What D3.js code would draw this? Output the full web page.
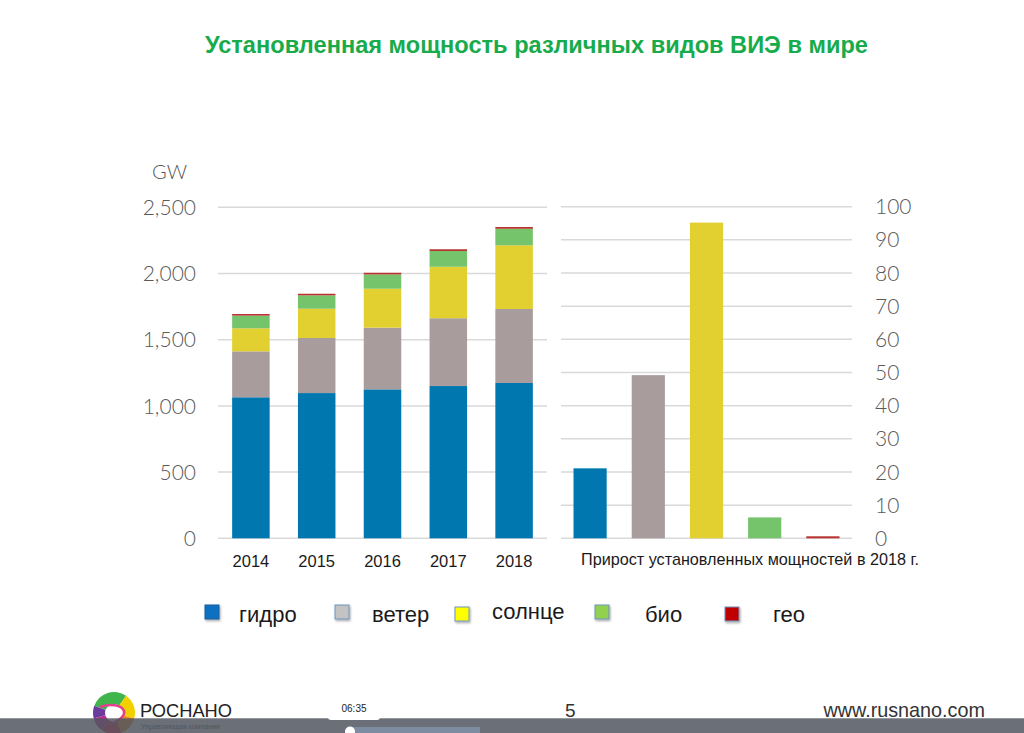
<!DOCTYPE html>
<html><head><meta charset="utf-8">
<script src="https://cdn.jsdelivr.net/npm/d3@7"></script>
<style>body{margin:0;background:#fff}svg{display:block}</style>
</head><body>
<script>
// ---- data ----
const years = ["2014","2015","2016","2017","2018"];
const hydro = [1065,1097,1125,1150,1173];
const wind  = [347,416,466,512,559];
const solar = [174,221,294,389,481];
const bio   = [96,101,108,119,125];
const geo   = [12,12,12.5,13,13.3];
const seriesNames = ["гидро","ветер","солнце","био","гео"];
const growth2018 = [21.1,49.2,95.2,6.3,0.6];
const leftTicks = [0,500,1000,1500,2000,2500];
const rightTicks = [0,10,20,30,40,50,60,70,80,90,100];
const titleText = "Установленная мощность различных видов ВИЭ в мире";
const unitText = "GW";
const growthText = "Прирост установленных мощностей в 2018 г.";
const pageNum = "5";
const siteText = "www.rusnano.com";
const timeText = "06:35";

// ---- styles ----
const barColors = ["#0077af","#a89c9c","#e2d030","#75c36b","#b8312f"];
const legendColors = ["#0a6fc0","#c3c3c3","#ffff00","#92d050","#c00000"];
const axisFont = "Lato, 'Open Sans', sans-serif";
const sansFont = "'Liberation Sans', Arial, sans-serif";

const W = 1024, H = 733;
const svg = d3.select("body").append("svg").attr("width", W).attr("height", H);
const defs = svg.append("defs");
const f = defs.append("filter").attr("id","sh").attr("x","-30%").attr("y","-30%").attr("width","170%").attr("height","170%");
f.append("feDropShadow").attr("dx",1).attr("dy",1.5).attr("stdDeviation",1).attr("flood-color","#000").attr("flood-opacity",0.35);

// title
svg.append("text").attr("x", 536.5).attr("y", 53).attr("text-anchor","middle")
  .attr("font-family", sansFont).attr("font-weight","bold").attr("font-size", 23.6)
  .attr("fill","#17ab4b").text(titleText);

// ---- left chart ----
const yL = d3.scaleLinear().domain([0,2500]).range([538.3, 207.3]);
const xL = d3.scaleBand().domain(years).range([218, 547]).paddingInner(0.43).paddingOuter(0.215);

const gL = svg.append("g");
gL.selectAll("line.grid").data(leftTicks).join("line")
  .attr("x1", 218).attr("x2", 547).attr("y1", d => yL(d)).attr("y2", d => yL(d))
  .attr("stroke","#d9d9d9").attr("stroke-width",1.5);
gL.selectAll("text.tick").data(leftTicks).join("text")
  .attr("x", 196).attr("y", d => yL(d) + 7.6).attr("text-anchor","end")
  .attr("font-family", axisFont).attr("font-weight",300).attr("font-size", 21).attr("fill","#595959")
  .text(d => d3.format(",")(d));
svg.append("text").attr("x", 152).attr("y", 179.3).attr("font-family", axisFont).attr("font-weight",300)
  .attr("font-size", 20).attr("fill","#595959").text(unitText);

const rows = years.map((y,i) => ({year:y, "гидро":hydro[i], "ветер":wind[i], "солнце":solar[i], "био":bio[i], "гео":geo[i]}));
const stacked = d3.stack().keys(seriesNames)(rows);
gL.selectAll("g.s").data(stacked).join("g").attr("fill", (d,i) => barColors[i])
  .selectAll("rect").data(d => d).join("rect")
  .attr("x", d => xL(d.data.year)).attr("width", xL.bandwidth())
  .attr("y", d => yL(d[1])).attr("height", d => yL(d[0]) - yL(d[1]));

gL.selectAll("text.year").data(years).join("text")
  .attr("x", d => xL(d) + xL.bandwidth()/2).attr("y", 566.5).attr("text-anchor","middle")
  .attr("font-family", sansFont).attr("font-size", 16.5).attr("fill","#1a1a1a").text(d => d);

// ---- right chart ----
const yR = d3.scaleLinear().domain([0,100]).range([538.3, 206.7]);
const xR = d3.scaleBand().domain(seriesNames).range([561, 852]).paddingInner(0.43).paddingOuter(0.215);
const gR = svg.append("g");
gR.selectAll("line.grid").data(rightTicks).join("line")
  .attr("x1", 561).attr("x2", 852).attr("y1", d => yR(d)).attr("y2", d => yR(d))
  .attr("stroke","#d9d9d9").attr("stroke-width",1.5);
gR.selectAll("text.tick").data(rightTicks).join("text")
  .attr("x", 875).attr("y", d => yR(d) + 7.6)
  .attr("font-family", axisFont).attr("font-weight",300).attr("font-size", 21).attr("fill","#595959")
  .text(d => d);
gR.selectAll("rect").data(growth2018).join("rect")
  .attr("x", (d,i) => xR(seriesNames[i])).attr("width", xR.bandwidth())
  .attr("y", d => yR(d)).attr("height", d => yR(0) - yR(d))
  .attr("fill", (d,i) => barColors[i]);
svg.append("text").attr("x", 581).attr("y", 564.5).attr("font-family", sansFont)
  .attr("font-size", 16.2).attr("fill","#1a1a1a").text(growthText);

// ---- legend ----
const legendLayout = {
  sqX: [205,335,455,595,725], sqY: [605,605,607,605,607],
  txX: [239,372,492,645,773], txY: [621.5,621.5,618.5,622,622]
};
const lg = svg.append("g");
seriesNames.forEach((name,i) => {
  lg.append("rect").attr("x", legendLayout.sqX[i]).attr("y", legendLayout.sqY[i]).attr("width",14).attr("height",14)
    .attr("fill", legendColors[i]).attr("stroke", i===0 ? "#1a5f9e" : "#6f93c0").attr("stroke-width",1)
    .attr("filter","url(#sh)");
  lg.append("text").attr("x", legendLayout.txX[i]).attr("y", legendLayout.txY[i])
    .attr("font-family", sansFont).attr("font-size", 22).attr("fill","#1a1a1a").text(name);
});

// ---- footer ----
const logo = svg.append("g").attr("transform","translate(114,713)");
const arc = d3.arc().innerRadius(8).outerRadius(21);
const segs = [[-70,35,"#3fb54b"],[35,105,"#f2d000"],[105,160,"#f08a1c"],[160,215,"#e5243b"],[215,255,"#c1288f"],[255,290,"#6b3b9b"]];
segs.forEach(s => logo.append("path").attr("d", arc({startAngle:s[0]*Math.PI/180, endAngle:s[1]*Math.PI/180})).attr("fill", s[2]));
logo.append("circle").attr("r",9).attr("fill","#fff");
logo.append("path").attr("d","M-14,-6 C-4,-10 8,-8 10,-2 C12,4 2,8 -4,12").attr("fill","none").attr("stroke","#e0408f").attr("stroke-width",2.5);
svg.append("text").attr("x",140).attr("y",716.8).attr("font-family",sansFont).attr("font-size",18.3).attr("fill","#222").text("РОСНАНО");
svg.append("text").attr("x",141).attr("y",728.5).attr("font-family",sansFont).attr("font-size",7).attr("fill","#555").text("Управляющая компания");
svg.append("text").attr("x",565).attr("y",717.3).attr("font-family",sansFont).attr("font-size",19).attr("fill","#333").text(pageNum);
svg.append("text").attr("x",985).attr("y",717.3).attr("text-anchor","end").attr("font-family",sansFont).attr("font-size",19.8).attr("fill","#333").text(siteText);

// video bar overlay
svg.append("rect").attr("x",0).attr("y",718.3).attr("width",W).attr("height",H-718.3).attr("fill","rgba(80,86,96,0.85)");
svg.append("rect").attr("x",350).attr("y",727).attr("width",130).attr("height",6).attr("fill","rgba(140,160,190,0.6)");
svg.append("circle").attr("cx",350).attr("cy",731.5).attr("r",5).attr("fill","#fff");
svg.append("rect").attr("x",328).attr("y",699).attr("width",52).attr("height",21).attr("rx",3).attr("fill","#fff");
svg.append("text").attr("x",354).attr("y",712).attr("text-anchor","middle").attr("font-family",sansFont).attr("font-size",10).attr("fill","#222").text(timeText);
</script>
</body></html>
